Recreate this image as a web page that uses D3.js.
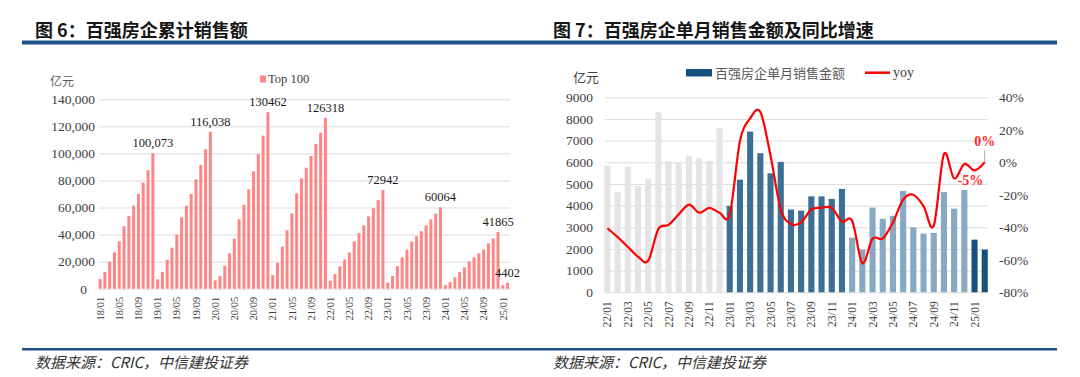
<!DOCTYPE html>
<html>
<head>
<meta charset="utf-8">
<script src="https://cdn.jsdelivr.net/npm/d3@7"></script>
<style>
    body { margin: 0; background: #fff; }
    svg text { font-family: "Liberation Serif", "Times New Roman", serif; }
    svg text.cjk { font-family: "Noto Sans CJK SC", sans-serif; }
</style>
</head>
<body>
<svg id="chart" width="1080" height="377"></svg>
<script>
// ---- data: figure 6 (cumulative sales, 亿元) ----
// months 18/01 .. 25/02
const cumMonths = [];
for (let yr = 18; yr <= 25; yr++) {
    for (let m = 1; m <= 12; m++) {
        if (yr === 25 && m > 2) break;
        cumMonths.push(`${yr}/${String(m).padStart(2, '0')}`);
    }
}
const cumValues = [
    7150, 12300, 19970, 26870, 35000, 46100, 53700, 61370, 70000, 78380, 87500, 100073,
    6900, 12300, 21440, 30320, 39930, 52750, 61370, 70000, 80850, 91450, 103030, 116038,
    6160, 9370, 17000, 26130, 36970, 51270, 62110, 73450, 86760, 99580, 113140, 130462,
    10100, 19230, 31060, 43250, 55800, 70500, 81590, 89470, 98100, 106970, 115350, 126318,
    5900, 10800, 16500, 21600, 26800, 35000, 41100, 46900, 53400, 59500, 65500, 72942,
    4400, 9400, 16700, 23100, 28800, 35000, 38700, 42400, 46800, 51200, 55500, 60064,
    2700, 4900, 8400, 12300, 15800, 20200, 23200, 26100, 29100, 33500, 37000, 41865,
    2500, 4402
];
const cumLabelMonths = ["18/12", "19/12", "20/12", "21/12", "22/12", "23/12", "24/12", "25/02"];
const cumLabelTexts = ["100,073", "116,038", "130462", "126318", "72942", "60064", "41865", "4402"];
const cumTicks = ["18/01", "18/05", "18/09", "19/01", "19/05", "19/09", "20/01", "20/05", "20/09",
    "21/01", "21/05", "21/09", "22/01", "22/05", "22/09", "23/01", "23/05", "23/09",
    "24/01", "24/05", "24/09", "25/01"];
const cumYTicks = [0, 20000, 40000, 60000, 80000, 100000, 120000, 140000];

// ---- data: figure 7 (monthly sales, 亿元, and yoy %) ----
const monMonths = cumMonths.slice(cumMonths.indexOf("22/01"));
const monSales = [
    5850, 4630, 5800, 4910, 5220, 8310, 6060, 6020, 6280, 6190, 6060, 7570,
    3990, 5200, 7420, 6420, 5490, 6020, 3820, 3770, 4430, 4430, 4310, 4770,
    2520, 1970, 3910, 3390, 3520, 4680, 3000, 2710, 2740, 4630, 3860, 4720,
    2430, 1970
];
const monYoy = [
    -40.6, -46, -52, -58, -60.6, -41, -38.5, -32, -26, -31, -28, -31,
    -32, 13, 27, 31, 4, -29, -38, -37, -29, -28, -28, -36.5,
    -36, -62, -47, -47, -37, -23, -20, -27, -39, 5, -10, -1,
    -5, 0
];
const monTicks = ["22/01", "22/03", "22/05", "22/07", "22/09", "22/11", "23/01", "23/03", "23/05",
    "23/07", "23/09", "23/11", "24/01", "24/03", "24/05", "24/07", "24/09", "24/11", "25/01"];
const monYTicks = [0, 1000, 2000, 3000, 4000, 5000, 6000, 7000, 8000, 9000];
const yoyTicks = [-80, -60, -40, -20, 0, 20, 40];
const yearColors = { "22": "#e4e4e4", "23": "#3b6f96", "24": "#87a9c3", "25": "#17507f" };

const svg = d3.select('#chart');
const RULE = '#1c5185';
const GRID = '#dcdcdc';

// titles, rules, sources
svg.append('text').attr('class', 'cjk').attr('x', 35).attr('y', 37)
    .attr('font-size', 18).attr('font-weight', 'bold').attr('fill', '#151515')
    .text('图 6：百强房企累计销售额');
svg.append('text').attr('class', 'cjk').attr('x', 553).attr('y', 37)
    .attr('font-size', 18).attr('font-weight', 'bold').attr('fill', '#151515')
    .text('图 7：百强房企单月销售金额及同比增速');
svg.append('rect').attr('x', 22).attr('y', 40.5).attr('width', 1035).attr('height', 4).attr('fill', RULE);
svg.append('rect').attr('x', 22).attr('y', 348).attr('width', 1035).attr('height', 2.5).attr('fill', RULE);
[35, 553].forEach(x => {
    svg.append('text').attr('class', 'cjk').attr('x', x).attr('y', 368)
        .attr('font-size', 15).attr('font-style', 'italic').attr('fill', '#333')
        .text('数据来源：CRIC，中信建投证券');
});

// ---------- figure 6 ----------
function drawCumulative() {
    const x = d3.scaleBand().domain(cumMonths).range([98.6, 509.1]).paddingInner(0.38);
    const y = d3.scaleLinear().domain([0, 140000]).range([288.7, 99.3]);

    const yAxis = svg.append('g')
        .attr('transform', 'translate(99,0)')
        .call(d3.axisLeft(y).tickValues(cumYTicks).tickSize(-411).tickPadding(4).tickFormat(d3.format(',')));
    yAxis.select('.domain').remove();
    yAxis.selectAll('line').attr('stroke', GRID);
    yAxis.selectAll('text').attr('font-size', 13.5).attr('fill', '#404040')
        .attr('font-family', '"Liberation Serif", serif')
        .attr('dx', d => d === 0 ? -8 : 0);

    const xAxis = svg.append('g')
        .attr('transform', `translate(0,${y(0)})`)
        .call(d3.axisBottom(x).tickValues(cumTicks).tickSize(0));
    xAxis.select('.domain').remove();
    xAxis.selectAll('text')
        .attr('transform', 'rotate(-90)')
        .attr('x', -8).attr('y', 0).attr('dy', '0.35em')
        .style('text-anchor', 'end')
        .attr('font-size', 10.5).attr('fill', '#404040')
        .attr('font-family', '"Liberation Serif", serif');

    svg.append('g').selectAll('rect')
        .data(cumMonths.map((m, i) => ({ m, v: cumValues[i] })))
        .join('rect')
        .attr('x', d => x(d.m))
        .attr('y', d => y(d.v))
        .attr('width', x.bandwidth())
        .attr('height', d => y(0) - y(d.v))
        .attr('fill', '#ff8585');

    svg.append('g').selectAll('text')
        .data(cumLabelMonths.map((m, i) => ({ m, t: cumLabelTexts[i], v: cumValues[cumMonths.indexOf(m)] })))
        .join('text')
        .attr('x', d => x(d.m) + x.bandwidth() / 2)
        .attr('y', d => y(d.v) - 6)
        .attr('text-anchor', 'middle')
        .attr('font-size', 12.5).attr('fill', '#1a1a1a')
        .text(d => d.t);

    svg.append('text').attr('class', 'cjk').attr('x', 50).attr('y', 86)
        .attr('font-size', 12).attr('fill', '#595959').text('亿元');
    svg.append('rect').attr('x', 260).attr('y', 75.5).attr('width', 6).attr('height', 7).attr('fill', '#ff8585');
    svg.append('text').attr('x', 268).attr('y', 83).attr('font-size', 12.5).attr('fill', '#404040').text('Top 100');
}

// ---------- figure 7 ----------
function drawMonthly() {
    const x = d3.scaleBand().domain(monMonths).range([604.3, 987.8]).paddingInner(0.4);
    const yL = d3.scaleLinear().domain([0, 9000]).range([292.3, 97.3]);
    const yR = d3.scaleLinear().domain([-80, 40]).range([292.3, 97.3]);
    const cx = m => x(m) + x.bandwidth() / 2;

    const yAxis = svg.append('g')
        .attr('transform', 'translate(605,0)')
        .call(d3.axisLeft(yL).tickValues(monYTicks).tickSize(-383).tickPadding(12).tickFormat(d3.format('d')));
    yAxis.select('.domain').remove();
    yAxis.selectAll('line').attr('stroke', GRID);
    yAxis.selectAll('text').attr('font-size', 13.5).attr('fill', '#404040')
        .attr('font-family', '"Liberation Serif", serif');

    const rAxis = svg.append('g')
        .attr('transform', 'translate(988,0)')
        .call(d3.axisRight(yR).tickValues(yoyTicks).tickSize(0).tickPadding(11).tickFormat(d => d + '%'));
    rAxis.select('.domain').remove();
    rAxis.selectAll('text').attr('font-size', 13.5).attr('fill', '#404040')
        .attr('font-family', '"Liberation Serif", serif');

    const xAxis = svg.append('g')
        .attr('transform', `translate(0,${yL(0)})`)
        .call(d3.axisBottom(x).tickValues(monTicks).tickSize(0));
    xAxis.select('.domain').remove();
    xAxis.selectAll('text')
        .attr('transform', 'rotate(-90)')
        .attr('x', -9).attr('y', 0).attr('dy', '0.35em')
        .style('text-anchor', 'end')
        .attr('font-size', 11.5).attr('fill', '#404040')
        .attr('font-family', '"Liberation Serif", serif');

    svg.append('g').selectAll('rect')
        .data(monMonths.map((m, i) => ({ m, v: monSales[i] })))
        .join('rect')
        .attr('x', d => x(d.m))
        .attr('y', d => yL(d.v))
        .attr('width', x.bandwidth())
        .attr('height', d => yL(0) - yL(d.v))
        .attr('fill', d => yearColors[d.m.slice(0, 2)]);

    const yoyData = monMonths.map((m, i) => ({ m, v: monYoy[i] }));
    svg.append('path')
        .datum(yoyData)
        .attr('fill', 'none')
        .attr('stroke', '#ff0000')
        .attr('stroke-width', 2.2)
        .attr('d', d3.line().x(d => cx(d.m)).y(d => yR(d.v)).curve(d3.curveCatmullRom.alpha(0)));

    // labels on the last two points
    const last = yoyData[yoyData.length - 1];
    const prev = yoyData[yoyData.length - 2];
    svg.append('line')
        .attr('x1', cx(last.m)).attr('x2', cx(last.m))
        .attr('y1', yR(last.v) - 12).attr('y2', yR(last.v))
        .attr('stroke', '#a6a6a6').attr('stroke-width', 1);
    svg.append('text').attr('x', cx(last.m)).attr('y', yR(last.v) - 16)
        .attr('text-anchor', 'middle').attr('font-size', 14).attr('font-weight', 'bold')
        .attr('fill', '#ff2a2a').text(Math.round(last.v) + '%');
    svg.append('text').attr('x', cx(prev.m) - 4).attr('y', yR(prev.v) + 15)
        .attr('text-anchor', 'middle').attr('font-size', 14).attr('font-weight', 'bold')
        .attr('fill', '#ff2a2a').text(Math.round(prev.v) + '%');

    // legend + unit
    svg.append('text').attr('class', 'cjk').attr('x', 573).attr('y', 82)
        .attr('font-size', 13).attr('fill', '#404040').text('亿元');
    svg.append('rect').attr('x', 686).attr('y', 69).attr('width', 26).attr('height', 7.5).attr('fill', '#17507f');
    svg.append('text').attr('class', 'cjk').attr('x', 715).attr('y', 78)
        .attr('font-size', 13).attr('fill', '#595959').text('百强房企单月销售金额');
    svg.append('line').attr('x1', 865).attr('x2', 890).attr('y1', 72.7).attr('y2', 72.7)
        .attr('stroke', '#ff0000').attr('stroke-width', 2.5);
    svg.append('text').attr('x', 893).attr('y', 77).attr('font-size', 14).attr('fill', '#404040').text('yoy');
}

drawCumulative();
drawMonthly();
</script>
</body>
</html>
